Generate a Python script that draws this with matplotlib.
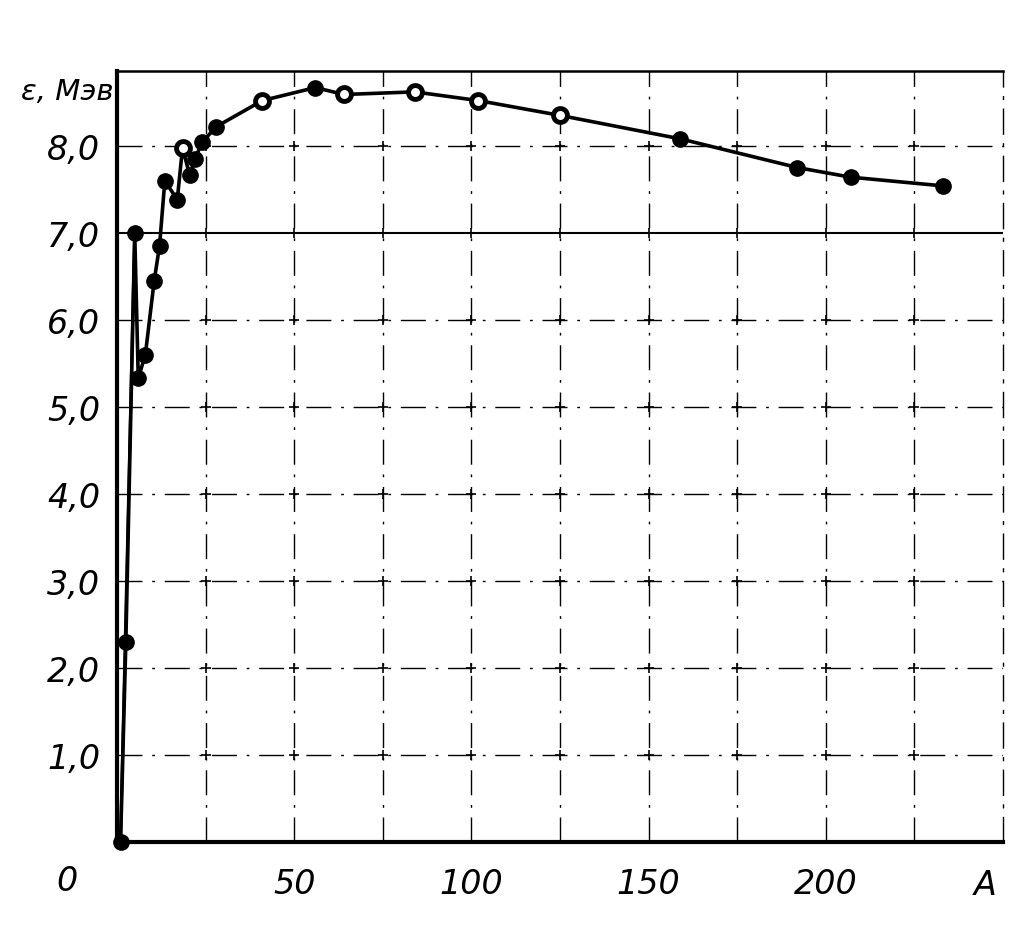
import matplotlib
matplotlib.use("Agg")
import matplotlib.pyplot as plt
from matplotlib import font_manager
import numpy as np

# mass number A and binding energy per nucleon (MeV)
mass_num = [1, 2.5, 5, 6, 8, 10.5, 12, 13.5, 17, 18.5, 20.5, 22, 24, 28,
            41, 56, 64, 84, 102, 125, 159, 192, 207, 233]
energy = [0.0, 2.3, 7.0, 5.33, 5.6, 6.45, 6.85, 7.6, 7.38, 7.98, 7.66, 7.85, 8.04, 8.22,
          8.52, 8.67, 8.59, 8.62, 8.52, 8.35, 8.08, 7.75, 7.64, 7.54]
hollow = [False, False, False, False, False, False, False, False, False, True, False, False, False, False,
          True, False, True, True, True, True, False, False, False, False]

x_ticks = [50, 100, 150, 200]
x_labels = ["50", "100", "150", "200"]
y_ticks = [1, 2, 3, 4, 5, 6, 7, 8]
y_labels = ["1,0", "2,0", "3,0", "4,0", "5,0", "6,0", "7,0", "8,0"]

names = {f.name for f in font_manager.fontManager.ttflist}
fam = "Liberation Sans Narrow" if "Liberation Sans Narrow" in names else "DejaVu Sans"
fs = 30 if fam == "Liberation Sans Narrow" else 24

fig = plt.figure(figsize=(10.25, 9.37), dpi=100)
ax = fig.add_axes([117 / 1025, 94 / 937, 886 / 1025, 771 / 937])
ax.set_xlim(0, 250)
ax.set_ylim(0, 8.86)

# grid, dash-dot like the scan
dd = (0, (18, 7, 2, 7))
for gx in np.arange(25, 250, 25):
    ax.axvline(gx, color="black", lw=1.0, linestyle=dd, zorder=1)
for gy in y_ticks:
    if gy == 7:
        ax.axhline(gy, color="black", lw=1.5, zorder=1)
    else:
        ax.axhline(gy, color="black", lw=1.0, linestyle=dd, zorder=1)
gxx, gyy = np.meshgrid(np.arange(25, 250, 25), y_ticks)
ax.scatter(gxx.ravel(), gyy.ravel(), marker="+", s=45, color="black", lw=1.2, zorder=1)

for side in ["left", "bottom"]:
    ax.spines[side].set_linewidth(3)
ax.spines["top"].set_linewidth(1.8)
ax.spines["right"].set_linewidth(1.0)
ax.spines["right"].set_linestyle(dd)

# the curve
ax.plot(mass_num, energy, color="black", lw=2.6, zorder=3, clip_on=False)
ax.plot([mass_num[0], mass_num[2]], [energy[0], energy[2]], color="black", lw=2.2, zorder=3, clip_on=False)
for a, e, h in zip(mass_num, energy, hollow):
    if h:
        ax.plot(a, e, "o", ms=10, mfc="white", mec="black", mew=3.5, zorder=4, clip_on=False)
    else:
        ax.plot(a, e, "o", ms=11, color="black", zorder=4, clip_on=False)

ax.set_xticks(x_ticks)
ax.set_xticklabels(x_labels)
ax.set_yticks(y_ticks)
ax.set_yticklabels(y_labels)
ax.tick_params(length=0, pad=12)
ax.tick_params(axis="x", pad=18)
for lab in ax.get_xticklabels() + ax.get_yticklabels():
    lab.set_fontfamily(fam)
    lab.set_fontstyle("italic")
    lab.set_fontsize(fs)

ax.text(-11, -0.25, "0", ha="right", va="top", fontsize=fs, family=fam, style="italic")
ax.text(245, -0.3, "A", ha="center", va="top", fontsize=fs, family=fam, style="italic")
ax.text(-1, 8.63, "ε, Мэв", ha="right", va="center", fontsize=fs - 3, family=fam, style="italic")

fig.savefig("out.png", dpi=100)
